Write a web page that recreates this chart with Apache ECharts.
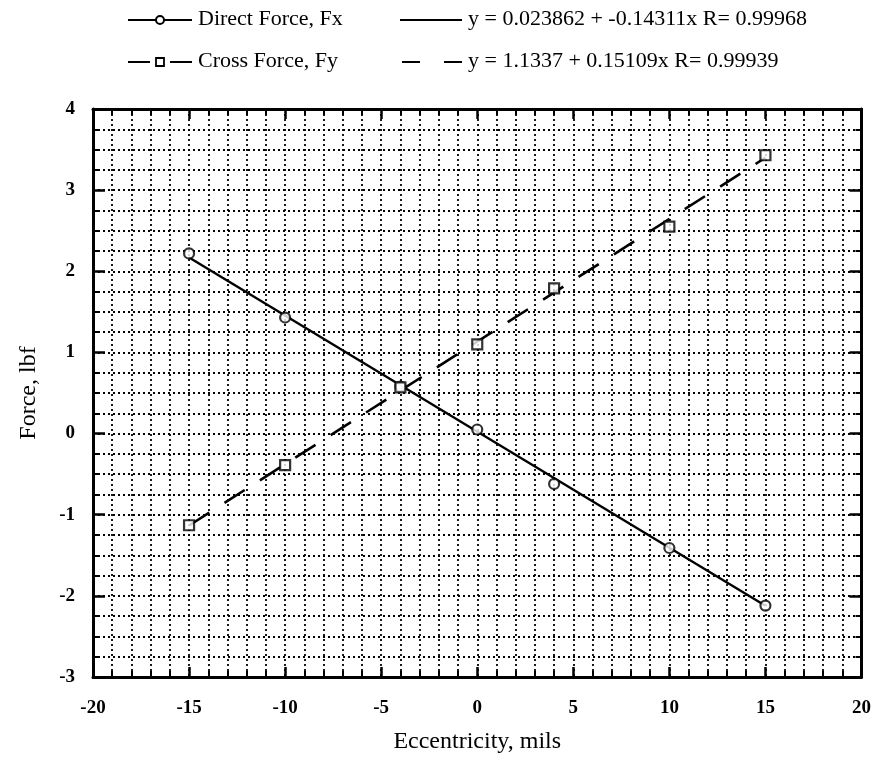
<!DOCTYPE html>
<html><head><meta charset="utf-8">
<script src="https://cdn.jsdelivr.net/npm/echarts@6/dist/echarts.min.js"></script>
<style>html,body{margin:0;padding:0;background:#fff}#c{width:874px;height:761px}</style>
</head><body><div id="c"></div>
<script>
// Data
var eccentricity = [-15, -10, -4, 0, 4, 10, 15];
var directForceFx = [2.22, 1.43, 0.58, 0.05, -0.62, -1.41, -2.12];
var crossForceFy = [-1.13, -0.39, 0.57, 1.10, 1.79, 2.55, 3.43];
// Fit coefficients (from legend text)
var fitFx = {a: 0.023862, b: -0.14311, r: 0.99968};
var fitFy = {a: 1.1337, b: 0.15109, r: 0.99939};
var fitRange = [-15, 15];
var xTicks = [-20, -15, -10, -5, 0, 5, 10, 15, 20];
var yTicks = [-3, -2, -1, 0, 1, 2, 3, 4];

var FONT = '"Liberation Serif","Times New Roman",serif';
function pairs(xs, ys){ return xs.map(function(x,i){ return [x, ys[i]]; }); }
function fitLine(f){ return fitRange.map(function(x){ return [x, f.a + f.b*x]; }); }

var chart = echarts.init(document.getElementById('c'));
var dotted = {show:true, lineStyle:{color:'#000', type:[2,3], width:1.8}};
function xAxisDef(pos, labels){
  return {type:'value', position:pos, min:xTicks[0], max:xTicks[xTicks.length-1], interval:5,
    axisLine:{show:true, onZero:false, lineStyle:{color:'#000', width:3}},
    axisTick:{show:true, inside:true, length:10, lineStyle:{color:'#000', width:2.5}},
    minorTick:{show:true, splitNumber:5, length:6, lineStyle:{color:'#000', width:2}},
    splitLine: labels ? dotted : {show:false},
    minorSplitLine: labels ? dotted : {show:false},
    axisLabel:{show:labels, color:'#000', fontFamily:FONT, fontSize:19, fontWeight:'bold', margin:22},
    name: labels ? 'Eccentricity, mils' : '', nameLocation:'middle', nameGap:53,
    nameTextStyle:{color:'#000', fontFamily:FONT, fontSize:24}
  };
}
function yAxisDef(pos, labels){
  return {type:'value', position:pos, min:yTicks[0], max:yTicks[yTicks.length-1], interval:1,
    axisLine:{show:true, onZero:false, lineStyle:{color:'#000', width:3}},
    axisTick:{show:true, inside:true, length:12, lineStyle:{color:'#000', width:2.5}},
    minorTick:{show:true, splitNumber:4, length:6, lineStyle:{color:'#000', width:2}},
    splitLine: labels ? dotted : {show:false},
    minorSplitLine: labels ? dotted : {show:false},
    axisLabel:{show:labels, color:'#000', fontFamily:FONT, fontSize:19, fontWeight:'bold', margin:18, padding:[8,0,0,0]},
    name: labels ? 'Force, lbf' : '', nameLocation:'middle', nameGap:52,
    nameTextStyle:{color:'#000', fontFamily:FONT, fontSize:24}
  };
}

var legendY1 = 20, legendY2 = 62;
function t(x,y,s){ return {type:'text', left:x, top:y-12, style:{text:s, fill:'#000', font:'22px '+FONT}}; }

chart.setOption({
  animation:false,
  backgroundColor:'#fff',
  grid:{left:93, right:9, top:109, bottom:84, containLabel:false},
  xAxis:[xAxisDef('bottom', true), xAxisDef('top', false)],
  yAxis:[yAxisDef('left', true), yAxisDef('right', false)],
  series:[
    {name:'fitFx', type:'line', data:fitLine(fitFx), showSymbol:false, symbol:'none', z:2,
      lineStyle:{color:'#000', width:2.4}},
    {name:'fitFy', type:'line', data:fitLine(fitFy), showSymbol:false, symbol:'none', z:2,
      lineStyle:{color:'#000', width:2.6, type:[24,18]}},
    {name:'Direct Force, Fx', type:'scatter', data:pairs(eccentricity, directForceFx), symbol:'circle', symbolSize:10, z:3,
      itemStyle:{color:'#fff', borderColor:'#000', borderWidth:2.2}},
    {name:'Cross Force, Fy', type:'scatter', data:pairs(eccentricity, crossForceFy), symbol:'rect', symbolSize:10, z:3,
      itemStyle:{color:'#fff', borderColor:'#000', borderWidth:2.2}}
  ],
  graphic:[
    {type:'line', shape:{x1:128,y1:legendY1,x2:192,y2:legendY1}, style:{stroke:'#000', lineWidth:2}},
    {type:'circle', shape:{cx:160, cy:legendY1, r:4}, style:{fill:'#fff', stroke:'#000', lineWidth:2}},
    t(198, legendY1, 'Direct Force, Fx'),
    {type:'line', shape:{x1:400,y1:legendY1,x2:462,y2:legendY1}, style:{stroke:'#000', lineWidth:2}},
    t(468, legendY1, 'y = 0.023862 + -0.14311x R= 0.99968'),
    {type:'line', shape:{x1:128,y1:legendY2,x2:150,y2:legendY2}, style:{stroke:'#000', lineWidth:2}},
    {type:'line', shape:{x1:170,y1:legendY2,x2:192,y2:legendY2}, style:{stroke:'#000', lineWidth:2}},
    {type:'rect', shape:{x:156, y:legendY2-4, width:8, height:8}, style:{fill:'#fff', stroke:'#000', lineWidth:1.8}},
    t(198, legendY2, 'Cross Force, Fy'),
    {type:'line', shape:{x1:402,y1:legendY2,x2:420,y2:legendY2}, style:{stroke:'#000', lineWidth:2}},
    {type:'line', shape:{x1:444,y1:legendY2,x2:462,y2:legendY2}, style:{stroke:'#000', lineWidth:2}},
    t(468, legendY2, 'y = 1.1337 + 0.15109x R= 0.99939')
  ]
});
</script></body></html>
